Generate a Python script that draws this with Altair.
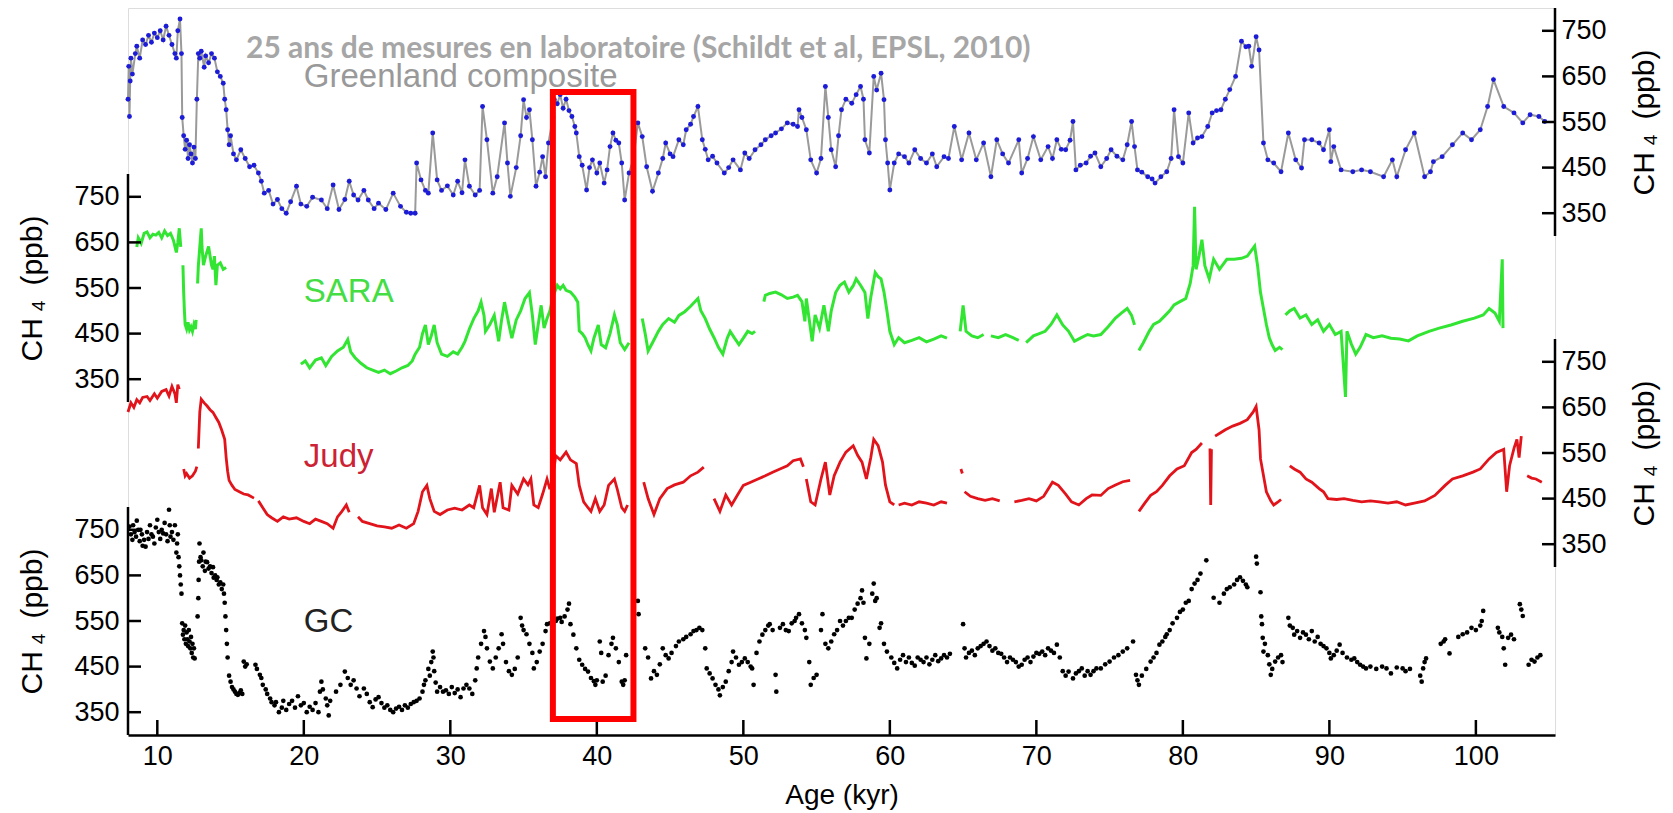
import altair as alt
import pandas as pd

# ---------------- data (age kyr, CH4 ppb) ----------------
GREENLAND = [
    (8.0, 600), (8.05, 672), (8.1, 562), (8.15, 640), (8.2, 690), (8.3, 655), (8.5, 700), (8.6, 716),
    (8.8, 690), (9.0, 730), (9.2, 720), (9.4, 740), (9.6, 725), (9.8, 745), (10.0, 735), (10.2, 750),
    (10.4, 730), (10.6, 760), (10.8, 740), (11.0, 720), (11.2, 700), (11.3, 690), (11.4, 750), (11.55, 776),
    (11.65, 700), (11.7, 560), (11.8, 520), (11.9, 490), (12.0, 510), (12.1, 470), (12.2, 500), (12.3, 480),
    (12.4, 460), (12.5, 495), (12.6, 470), (12.7, 600), (12.8, 700), (12.9, 690), (13.0, 705), (13.2, 670),
    (13.3, 695), (13.5, 680), (13.7, 700), (13.9, 690), (14.1, 660), (14.3, 650), (14.5, 635), (14.6, 600),
    (14.7, 577), (14.8, 533), (14.9, 500), (15.0, 520), (15.2, 480), (15.4, 467), (15.7, 489), (16.0, 470),
    (16.3, 452), (16.6, 455), (16.9, 438), (17.1, 420), (17.3, 394), (17.6, 400), (17.9, 370), (18.2, 380),
    (18.5, 360), (18.8, 350), (19.1, 375), (19.5, 409), (19.8, 370), (20.2, 365), (20.6, 385), (21.2, 379),
    (21.6, 360), (22.0, 412), (22.4, 358), (22.8, 380), (23.1, 420), (23.4, 390), (23.7, 379), (24.1, 400),
    (24.4, 379), (24.8, 360), (25.1, 372), (25.6, 358), (26.1, 394), (26.6, 365), (27.0, 352), (27.3, 350),
    (27.6, 350), (27.7, 460), (28.0, 423), (28.3, 400), (28.5, 394), (28.8, 526), (29.1, 423), (29.4, 400),
    (29.8, 410), (30.2, 390), (30.5, 420), (30.8, 395), (31.0, 467), (31.3, 409), (31.7, 390), (32.0, 400),
    (32.2, 584), (32.5, 511), (32.9, 394), (33.2, 430), (33.7, 548), (33.9, 460), (34.1, 387), (34.5, 450),
    (34.8, 520), (35.0, 599), (35.2, 560), (35.4, 577), (35.6, 511), (35.85, 409), (36.1, 440), (36.3, 474),
    (36.5, 430), (36.7, 504), (37.0, 560), (37.1, 599), (37.3, 590), (37.5, 610), (37.7, 580), (37.9, 600),
    (38.1, 575), (38.3, 562), (38.5, 540), (38.6, 526), (38.8, 474), (39.0, 455), (39.3, 401), (39.5, 450),
    (39.7, 467), (40.0, 438), (40.2, 460), (40.5, 416), (40.7, 445), (40.9, 496), (41.1, 526), (41.3, 510),
    (41.5, 504), (41.7, 460), (41.9, 379), (42.2, 438), (42.5, 470), (42.8, 548), (43.1, 518), (43.4, 452),
    (43.8, 398), (44.2, 438), (44.5, 470), (44.7, 504), (45.0, 480), (45.2, 474), (45.6, 511), (45.9, 500),
    (46.1, 533), (46.4, 545), (46.6, 562), (46.9, 584), (47.2, 511), (47.4, 490), (47.6, 467), (47.9, 475),
    (48.2, 460), (48.7, 438), (49.0, 450), (49.3, 467), (49.8, 445), (50.1, 482), (50.4, 470), (50.8, 489),
    (51.2, 500), (51.5, 511), (51.9, 520), (52.2, 526), (52.6, 535), (53.0, 548), (53.4, 545), (53.7, 540),
    (53.8, 577), (54.0, 560), (54.3, 533), (54.6, 467), (55.0, 438), (55.3, 470), (55.6, 628), (55.8, 560),
    (56.0, 489), (56.3, 452), (56.5, 520), (56.7, 577), (57.0, 600), (57.4, 591), (57.7, 610), (58.0, 628),
    (58.2, 600), (58.3, 511), (58.6, 482), (58.9, 650), (59.1, 620), (59.4, 657), (59.6, 599), (59.7, 511),
    (59.85, 460), (60.0, 401), (60.3, 460), (60.6, 480), (61.0, 474), (61.3, 460), (61.7, 489), (62.1, 470),
    (62.5, 460), (62.9, 480), (63.2, 452), (63.7, 474), (64.0, 470), (64.4, 540), (64.9, 467), (65.4, 526),
    (65.9, 467), (66.4, 504), (66.9, 430), (67.3, 511), (67.7, 480), (68.1, 460), (68.8, 511), (69.0, 438),
    (69.4, 470), (69.8, 518), (70.3, 467), (70.8, 496), (71.1, 470), (71.4, 511), (71.7, 490), (72.0, 489),
    (72.3, 510), (72.5, 551), (72.7, 445), (73.0, 455), (73.4, 460), (73.7, 475), (74.0, 482), (74.4, 452),
    (74.8, 470), (75.1, 489), (75.5, 475), (75.9, 467), (76.2, 500), (76.5, 551), (76.7, 496), (76.9, 445),
    (77.2, 440), (77.6, 430), (77.9, 425), (78.1, 416), (78.5, 430), (78.9, 441), (79.2, 470), (79.4, 577),
    (79.7, 474), (80.0, 460), (80.4, 570), (80.7, 504), (81.0, 515), (81.3, 518), (81.7, 540), (82.0, 570),
    (82.3, 575), (82.6, 577), (82.9, 600), (83.2, 621), (83.6, 650), (84.0, 727), (84.3, 715), (84.5, 716),
    (84.7, 672), (85.0, 737), (85.2, 708), (85.5, 504), (85.8, 467), (86.2, 460), (86.7, 441), (87.2, 526),
    (87.7, 467), (88.1, 449), (88.3, 511), (88.8, 511), (89.3, 504), (89.6, 489), (90.0, 533), (90.1, 463),
    (90.3, 496), (90.8, 445), (91.6, 441), (92.2, 445), (92.8, 441), (93.7, 430), (94.3, 467), (94.6, 430),
    (95.2, 489), (95.8, 526), (96.5, 430), (96.9, 441), (97.1, 463), (97.7, 474), (98.4, 500), (99.1, 526),
    (99.7, 511), (100.3, 533), (100.8, 584), (101.2, 643), (101.9, 584), (102.6, 570), (103.2, 548),
    (103.7, 566), (104.3, 562), (104.7, 551),
]

SARA = [
    [(8.6, 640), (8.7, 660), (8.9, 648), (9.1, 670), (9.3, 673), (9.5, 660), (9.7, 668), (9.9, 666),
     (10.1, 672), (10.3, 660), (10.5, 675), (10.7, 665), (10.9, 670), (11.1, 655), (11.3, 628), (11.4, 650),
     (11.5, 681), (11.6, 640)],
    [(11.75, 600), (11.8, 540), (11.85, 500), (11.9, 470), (12.0, 460), (12.1, 475), (12.2, 458), (12.3, 465),
     (12.4, 455), (12.5, 470), (12.6, 460), (12.65, 480)],
    [(12.75, 560), (12.8, 598), (12.9, 640), (13.0, 681), (13.05, 640), (13.15, 600), (13.3, 620), (13.5, 641),
     (13.7, 600), (13.8, 591), (13.9, 620), (14.0, 556), (14.1, 600), (14.3, 605), (14.5, 591), (14.7, 595)],
    [(19.8, 383), (20.1, 390), (20.4, 375), (20.8, 392), (21.2, 397), (21.5, 380), (21.9, 400), (22.3, 412),
     (22.7, 420), (23.0, 437), (23.2, 410), (23.5, 397), (23.9, 385), (24.3, 375), (24.7, 370), (25.1, 365),
     (25.5, 370), (25.9, 362), (26.3, 368), (26.7, 375), (27.1, 380), (27.4, 390), (27.6, 405), (27.9, 420),
     (28.1, 450), (28.3, 469), (28.5, 426), (28.7, 445), (28.9, 469), (29.1, 430), (29.4, 405), (29.8, 400),
     (30.2, 410), (30.5, 405), (30.8, 420), (31.0, 433), (31.3, 460), (31.6, 483), (31.9, 500), (32.1, 519),
     (32.3, 490), (32.4, 455), (32.7, 470), (33.0, 490), (33.3, 433), (33.5, 480), (33.7, 519), (34.0, 470),
     (34.2, 440), (34.5, 480), (34.8, 500), (35.1, 527), (35.4, 540), (35.6, 490), (35.8, 426), (36.0, 470),
     (36.2, 512), (36.4, 462), (36.6, 483), (36.8, 500), (37.0, 530), (37.3, 556), (37.5, 548), (37.7, 556),
     (37.9, 545), (38.2, 541), (38.5, 530), (38.7, 519), (38.8, 456), (39.0, 450), (39.2, 441), (39.4, 425),
     (39.6, 412), (39.8, 440), (40.1, 469), (40.3, 426), (40.6, 419), (40.9, 450), (41.2, 491), (41.4, 469),
     (41.6, 430), (41.9, 415), (42.2, 430)],
    [(43.1, 483), (43.3, 450), (43.5, 412), (43.8, 430), (44.2, 455), (44.5, 470), (44.9, 483), (45.3, 475),
     (45.6, 490), (46.0, 498), (46.4, 510), (46.9, 527), (47.1, 500), (47.4, 483), (47.7, 460), (48.0, 441),
     (48.3, 420), (48.6, 405), (48.9, 440), (49.1, 455), (49.4, 440), (49.7, 426), (50.0, 440), (50.3, 455),
     (50.6, 450), (50.8, 455)],
    [(51.4, 520), (51.5, 534), (51.8, 538), (52.2, 541), (52.6, 535), (53.0, 527), (53.4, 530), (53.7, 534),
     (54.0, 520), (54.2, 477), (54.3, 527), (54.5, 480), (54.7, 433), (54.9, 491), (55.2, 462), (55.5, 512),
     (55.8, 455), (56.0, 500), (56.3, 540), (56.6, 556), (56.9, 563), (57.2, 541), (57.5, 555), (57.7, 570),
     (58.0, 556), (58.3, 540), (58.5, 483), (58.7, 530), (59.0, 584), (59.2, 575), (59.4, 570), (59.6, 541),
     (59.8, 500), (60.0, 455), (60.3, 426), (60.6, 441), (61.0, 430), (61.5, 435), (62.0, 441), (62.5, 432),
     (63.0, 438), (63.5, 445), (63.9, 440)],
    [(64.8, 455), (65.0, 512), (65.2, 455), (65.6, 445), (66.0, 441), (66.4, 448)],
    [(66.9, 445), (67.4, 441), (67.9, 448), (68.4, 441), (68.8, 435)],
    [(69.3, 430), (69.8, 445), (70.2, 450), (70.6, 455), (71.0, 470), (71.4, 491), (71.8, 469), (72.2, 455),
     (72.6, 433), (73.0, 440), (73.5, 448), (73.9, 445), (74.4, 448), (74.9, 465), (75.4, 484), (75.8, 495),
     (76.2, 505), (76.5, 490), (76.7, 469)],
    [(77.0, 413), (77.3, 430), (77.7, 455), (78.0, 470), (78.4, 477), (78.8, 490), (79.1, 500), (79.4, 513),
     (79.8, 520), (80.2, 527), (80.5, 560), (80.7, 599), (80.8, 728), (80.9, 591), (81.1, 620), (81.3, 656),
     (81.5, 599), (81.8, 570), (82.1, 613), (82.5, 591), (83.0, 613), (83.5, 613), (84.0, 615), (84.4, 620),
     (84.9, 642), (85.1, 599), (85.3, 540), (85.5, 505), (85.7, 470), (85.9, 441), (86.1, 425), (86.3, 413),
     (86.6, 420), (86.8, 415)],
    [(87.0, 491), (87.3, 500), (87.6, 505), (88.0, 484), (88.4, 491), (88.8, 470), (89.2, 480), (89.6, 455),
     (90.0, 470), (90.4, 448), (90.8, 455), (91.1, 311), (91.2, 455), (91.5, 427), (91.8, 405), (92.1, 420),
     (92.5, 448), (93.0, 441), (93.6, 445), (94.2, 440), (94.8, 438), (95.4, 434), (96.0, 445), (96.8, 455),
     (97.5, 462), (98.3, 469), (99.1, 477), (99.9, 484), (100.5, 491), (100.9, 505), (101.3, 495),
     (101.6, 477), (101.8, 613), (101.85, 462)],
]

JUDY = [
    [(8.0, 640), (8.2, 660), (8.4, 650), (8.6, 667), (8.8, 660), (9.0, 672), (9.3, 674), (9.5, 665),
     (9.8, 680), (10.0, 670), (10.3, 685), (10.6, 689), (10.8, 675), (11.0, 696), (11.2, 680), (11.3, 660),
     (11.4, 700), (11.5, 690)],
    [(11.8, 515), (11.9, 500), (12.0, 505), (12.2, 495), (12.4, 500), (12.6, 510), (12.7, 520)],
    [(12.8, 560), (12.85, 600), (12.9, 640), (13.0, 668), (13.2, 660), (13.4, 653), (13.6, 645), (13.8, 639),
     (14.0, 628), (14.2, 617), (14.4, 600), (14.6, 580), (14.7, 540), (14.8, 510), (14.9, 490), (15.1, 479),
     (15.3, 470), (15.6, 465), (15.9, 460), (16.2, 458), (16.6, 451)],
    [(16.9, 445), (17.2, 430), (17.5, 415), (17.8, 408), (18.2, 400), (18.6, 410), (19.0, 405), (19.5, 408),
     (20.0, 400), (20.4, 395), (20.8, 405), (21.2, 400), (21.6, 395), (22.0, 385), (22.3, 410), (22.6, 422),
     (22.9, 436), (23.1, 420)],
    [(23.7, 410), (24.0, 400), (24.5, 395), (25.0, 390), (25.5, 388), (26.0, 385), (26.5, 392), (27.0, 385),
     (27.5, 395), (27.8, 422), (28.1, 465), (28.4, 479), (28.6, 450), (28.9, 422), (29.3, 415), (29.8, 425),
     (30.3, 429), (30.8, 425), (31.3, 436), (31.6, 430), (32.0, 479), (32.2, 430), (32.5, 415), (32.8, 472),
     (33.0, 420), (33.4, 486), (33.6, 430), (34.0, 425), (34.2, 479), (34.6, 460), (35.0, 493), (35.3, 480),
     (35.5, 493), (35.7, 436), (36.0, 430), (36.3, 460), (36.6, 493), (36.8, 470)],
    [(37.0, 500), (37.2, 544), (37.5, 535), (37.9, 552), (38.2, 535), (38.6, 527), (38.8, 479), (39.1, 443),
     (39.4, 430), (39.6, 422), (39.9, 450), (40.2, 422), (40.5, 436), (40.8, 479), (41.2, 493), (41.4, 470),
     (41.7, 430), (41.9, 422), (42.1, 436)],
    [(43.2, 486), (43.5, 450), (43.9, 415), (44.3, 450), (44.8, 472), (45.3, 480), (45.9, 486), (46.4, 500),
     (46.9, 508), (47.3, 519)],
    [(48.0, 450), (48.4, 422), (48.8, 458), (49.2, 436), (49.6, 458), (50.0, 479), (50.5, 486), (51.0, 493),
     (51.5, 500), (52.0, 508), (52.5, 515), (53.0, 522), (53.4, 533), (53.9, 537), (54.1, 520)],
    [(54.3, 493), (54.6, 443), (54.9, 436), (55.3, 493), (55.6, 530), (55.9, 458), (56.2, 500), (56.6, 530),
     (57.0, 552), (57.5, 566), (57.8, 545), (58.1, 530), (58.4, 493), (58.7, 540), (58.9, 580), (59.2, 566),
     (59.5, 530), (59.7, 480), (60.0, 443), (60.3, 436)],
    [(60.6, 436), (61.0, 440), (61.5, 436), (62.0, 443), (62.5, 440), (63.0, 436), (63.5, 443), (63.9, 440)],
    [(64.85, 515), (64.95, 505)],
    [(65.1, 465), (65.5, 455), (66.0, 450), (66.5, 446), (67.0, 450), (67.5, 445)],
    [(68.5, 443), (69.0, 446), (69.5, 450), (70.0, 445), (70.5, 455), (71.1, 486), (71.5, 479), (72.0, 460),
     (72.4, 443), (72.9, 436), (73.4, 450), (73.8, 458), (74.4, 457), (74.9, 472), (75.4, 480), (75.9, 487),
     (76.4, 490)],
    [(77.0, 422), (77.4, 440), (77.8, 457), (78.2, 465), (78.6, 479), (79.1, 500), (79.6, 515), (80.1, 522),
     (80.6, 551), (80.9, 558), (81.3, 572)],
    [(81.85, 560), (81.9, 436), (81.95, 558)],
    [(82.2, 587), (82.6, 595), (82.9, 601), (83.4, 609), (83.9, 615), (84.4, 623), (84.8, 640), (85.0, 652),
     (85.2, 601), (85.3, 537), (85.7, 465), (86.0, 445), (86.2, 436), (86.5, 443), (86.7, 448)],
    [(87.3, 522), (87.6, 515), (88.0, 508), (88.4, 493), (88.8, 486), (89.3, 472), (89.6, 465), (89.9, 450),
     (90.5, 448), (91.0, 450), (91.6, 446), (92.2, 443), (92.8, 445), (93.4, 443), (94.0, 440), (94.6, 443),
     (95.2, 436), (95.8, 440), (96.5, 445), (97.2, 457), (97.9, 479), (98.4, 493), (99.1, 500), (99.8, 508),
     (100.3, 515), (100.9, 537), (101.4, 551), (101.9, 558), (102.1, 465), (102.3, 522), (102.6, 560),
     (102.8, 580), (102.95, 540), (103.1, 587)],
    [(103.5, 500), (103.8, 495), (104.1, 493), (104.5, 486)],
]

GC = [
    (8.1, 757), (8.2, 740), (8.3, 728), (8.35, 760), (8.45, 745), (8.55, 735), (8.6, 770), (8.7, 750),
    (8.8, 725), (8.85, 750), (8.95, 740), (9.0, 715), (9.1, 728), (9.2, 713), (9.3, 745), (9.4, 730),
    (9.5, 760), (9.6, 740), (9.7, 735), (9.8, 720), (9.9, 755), (10.0, 772), (10.1, 745), (10.2, 730),
    (10.3, 750), (10.4, 742), (10.5, 765), (10.6, 740), (10.7, 725), (10.8, 794), (10.85, 760), (10.9, 735),
    (11.0, 745), (11.1, 728), (11.2, 760), (11.3, 700), (11.35, 720), (11.4, 740), (11.45, 690),
    (11.5, 670), (11.55, 650), (11.6, 630), (11.65, 610),
    (11.7, 545), (11.75, 520), (11.8, 530), (11.85, 510), (11.9, 540), (11.95, 500), (12.0, 525), (12.05, 510),
    (12.1, 495), (12.15, 530), (12.2, 505), (12.25, 490), (12.3, 515), (12.35, 480), (12.4, 500), (12.45, 470),
    (12.5, 490), (12.55, 468),
    (12.75, 560), (12.8, 600), (12.82, 640), (12.85, 680), (12.88, 720),
    (12.95, 690), (13.0, 683), (13.1, 670), (13.15, 700), (13.25, 660), (13.3, 680), (13.4, 679), (13.5, 665),
    (13.6, 670), (13.7, 655), (13.8, 668), (13.85, 645), (13.95, 650), (14.05, 640), (14.1, 646), (14.2, 630),
    (14.3, 635), (14.4, 620), (14.5, 630), (14.55, 610),
    (14.6, 590), (14.65, 560), (14.7, 530), (14.75, 500), (14.8, 470),
    (14.9, 430), (15.0, 417), (15.1, 405), (15.2, 400), (15.3, 395), (15.4, 390), (15.5, 388), (15.6, 392),
    (15.7, 398), (15.8, 390), (15.9, 461), (16.0, 450), (16.1, 455),
    (16.7, 454), (16.8, 445), (17.0, 432), (17.1, 425), (17.2, 410), (17.4, 400), (17.5, 390), (17.7, 380),
    (17.8, 372), (18.0, 365), (18.1, 372), (18.3, 350), (18.5, 360), (18.6, 375), (18.8, 355), (19.0, 368),
    (19.2, 375), (19.4, 360), (19.6, 385), (19.8, 365), (20.0, 370), (20.2, 350), (20.4, 362), (20.6, 355),
    (20.8, 370), (21.0, 350), (21.1, 395), (21.2, 417), (21.3, 400), (21.5, 380), (21.6, 365), (21.7, 343),
    (21.8, 375), (22.2, 395), (22.5, 410), (22.8, 439), (23.0, 425), (23.2, 410), (23.4, 420), (23.6, 402),
    (23.8, 385), (24.1, 402), (24.3, 390), (24.5, 372), (24.7, 361), (24.9, 378), (25.1, 383), (25.3, 370),
    (25.5, 360), (25.7, 365), (25.9, 355), (26.1, 350), (26.3, 358), (26.5, 362), (26.7, 355), (26.9, 365),
    (27.1, 360), (27.3, 368), (27.5, 372), (27.7, 375), (27.9, 380),
    (28.1, 395), (28.2, 410), (28.3, 420), (28.5, 445), (28.6, 430), (28.7, 460), (28.8, 483), (28.85, 470),
    (28.9, 440), (29.0, 415), (29.1, 395), (29.3, 405), (29.5, 395), (29.7, 398), (29.9, 390), (30.1, 405),
    (30.3, 392), (30.5, 400), (30.7, 383), (30.9, 402), (31.1, 410), (31.3, 402), (31.5, 390), (31.7, 420),
    (31.8, 446), (31.9, 470), (32.1, 500), (32.3, 528), (32.4, 515), (32.5, 490),
    (32.7, 461), (32.9, 446), (33.1, 470), (33.3, 490), (33.5, 521), (33.6, 500), (33.8, 460), (34.0, 440),
    (34.2, 432), (34.4, 445), (34.6, 470), (34.8, 557), (34.9, 540), (35.0, 530), (35.2, 521), (35.4, 500),
    (35.6, 480), (35.7, 446), (35.9, 460), (36.1, 483), (36.3, 500), (36.5, 528), (36.6, 543),
    (36.8, 545), (37.0, 540), (37.2, 550), (37.3, 555), (37.5, 557), (37.6, 548), (37.8, 560), (38.0, 575),
    (38.1, 588), (38.2, 543), (38.4, 520), (38.6, 490), (38.8, 465), (39.0, 454), (39.2, 445), (39.4, 439),
    (39.6, 425), (39.8, 418), (39.9, 410), (40.0, 420), (40.2, 505), (40.3, 480), (40.4, 417), (40.6, 430),
    (40.8, 475), (41.0, 500), (41.1, 513), (41.3, 490), (41.5, 460), (41.7, 417), (41.8, 410), (41.9, 420),
    (42.0, 475), (42.8, 594), (42.85, 565),
    (43.3, 490), (43.5, 470), (43.7, 424), (43.9, 440), (44.1, 432), (44.3, 455), (44.5, 490), (44.7, 475),
    (44.9, 468), (45.1, 480), (45.4, 495), (45.6, 505), (45.9, 510), (46.1, 515), (46.4, 521), (46.6, 528),
    (46.8, 530), (47.0, 535), (47.2, 530), (47.4, 490), (47.5, 446), (47.7, 435), (47.9, 424), (48.1, 410),
    (48.3, 400), (48.4, 387), (48.6, 405), (48.8, 417),
    (49.0, 440), (49.2, 460), (49.3, 483), (49.5, 470), (49.7, 454), (49.9, 460), (50.1, 468), (50.3, 460),
    (50.5, 450), (50.6, 446), (50.7, 410), (50.9, 480), (51.1, 505), (51.3, 520), (51.5, 530), (51.7, 540),
    (51.8, 543), (52.0, 530), (52.2, 432), (52.25, 395),
    (52.5, 535), (52.7, 543), (52.9, 530), (53.1, 528), (53.3, 545), (53.5, 550), (53.6, 557), (53.8, 565),
    (54.0, 545), (54.2, 530), (54.3, 513), (54.5, 460), (54.6, 410), (54.8, 425), (55.0, 432),
    (55.3, 530), (55.4, 565), (55.6, 500), (55.8, 490), (56.0, 505), (56.2, 521), (56.4, 530), (56.6, 550),
    (56.8, 540), (57.0, 550), (57.2, 557), (57.4, 557), (57.6, 575), (57.8, 588), (58.0, 600), (58.1, 617),
    (58.2, 590), (58.3, 513), (58.4, 468), (58.6, 500), (58.8, 610), (58.9, 632), (59.0, 594), (59.1, 600),
    (59.3, 535), (59.4, 545), (59.6, 500), (59.8, 483),
    (60.1, 470), (60.3, 458), (60.5, 446), (60.7, 465), (60.9, 475), (61.1, 460), (61.3, 470), (61.5, 458),
    (61.7, 452), (61.9, 470), (62.1, 465), (62.3, 460), (62.5, 470), (62.7, 455), (62.9, 465), (63.1, 475),
    (63.3, 462), (63.5, 468), (63.7, 475), (63.9, 470), (64.1, 478),
    (65.0, 543), (65.1, 490), (65.2, 470), (65.4, 480), (65.6, 485), (65.8, 475), (66.0, 490), (66.2, 495),
    (66.4, 500), (66.6, 505), (66.8, 495), (67.0, 485), (67.2, 490), (67.4, 480), (67.6, 478), (67.8, 470),
    (68.0, 460), (68.2, 470), (68.4, 465), (68.6, 460), (68.8, 450), (69.0, 454), (69.2, 465), (69.4, 470),
    (69.6, 460), (69.8, 472), (70.0, 480), (70.2, 478), (70.4, 483), (70.6, 475), (70.8, 490), (71.0, 485),
    (71.2, 480), (71.4, 498), (71.6, 470), (71.8, 440), (72.0, 430), (72.2, 439), (72.5, 424), (72.7, 435),
    (72.9, 440), (73.1, 446), (73.3, 430), (73.5, 440), (73.7, 432), (73.9, 440),
    (74.1, 446), (74.4, 446), (74.7, 455), (75.0, 461), (75.3, 470), (75.6, 475), (75.9, 483), (76.2, 490),
    (76.6, 505), (76.8, 432), (76.9, 420), (77.0, 410), (77.2, 430), (77.5, 445), (77.8, 461), (78.0, 470),
    (78.2, 480), (78.4, 498), (78.6, 505), (78.8, 515), (78.9, 521), (79.1, 530), (79.3, 545), (79.6, 557),
    (79.8, 570), (80.0, 575), (80.2, 590), (80.4, 594), (80.6, 620), (80.8, 632), (81.0, 640), (81.2, 654),
    (81.6, 683), (82.1, 601), (82.5, 590), (82.8, 610), (83.0, 620), (83.2, 624), (83.5, 630), (83.7, 640),
    (83.9, 646), (84.1, 638), (84.3, 630), (84.4, 624),
    (85.0, 691), (85.05, 676), (85.3, 613), (85.35, 560), (85.4, 543), (85.45, 513), (85.5, 483), (85.6, 500),
    (85.8, 475), (85.9, 455), (86.0, 432), (86.1, 445), (86.3, 461), (86.5, 470), (86.7, 475), (86.8, 460),
    (87.2, 557), (87.3, 540), (87.5, 535), (87.6, 520), (87.8, 528), (88.0, 513), (88.2, 525), (88.4, 520),
    (88.6, 510), (88.8, 528), (89.0, 505), (89.2, 515), (89.4, 500), (89.6, 495), (89.8, 490), (90.0, 480),
    (90.1, 468), (90.3, 475), (90.5, 485), (90.7, 498), (90.9, 480), (91.2, 470), (91.5, 465), (91.7, 468),
    (91.9, 460), (92.1, 454), (92.3, 450), (92.5, 446), (92.8, 450), (93.2, 445), (93.6, 450), (93.9, 446),
    (94.2, 435), (94.6, 448), (95.0, 446), (95.2, 440), (95.5, 445), (96.2, 430), (96.3, 417), (96.4, 446),
    (96.5, 460), (96.6, 468), (97.6, 500), (97.8, 505), (97.9, 510), (98.2, 479), (98.8, 515), (99.1, 521),
    (99.4, 525), (99.7, 535), (100.0, 530), (100.3, 540), (100.4, 550), (100.5, 572), (101.5, 535),
    (101.6, 525), (101.8, 515), (101.9, 490), (102.0, 454), (102.2, 513), (102.4, 520), (102.6, 510),
    (103.0, 587), (103.1, 575), (103.2, 561), (103.6, 454), (103.8, 465), (104.0, 461), (104.2, 470),
    (104.4, 475),
]

Y_TICKS = [350, 450, 550, 650, 750]
X_TICKS = [10, 20, 30, 40, 50, 60, 70, 80, 90, 100]
X_DOMAIN = [8.0, 105.4]
PANEL_RANGE = [300, 800]
HIGHLIGHT = [37.0, 42.5]
TITLE = "25 ans de mesures en laboratoire (Schildt et al, EPSL, 2010)"
Y_TITLE = "CH\u2009\u2084\u2009 (ppb)"
# series label: (text, age, ppb baseline, colour)
LABELS = {
    "greenland": ("Greenland composite", 20.0, 627, "#999999"),
    "sara": ("SARA", 20.0, 519, "#44dd44"),
    "judy": ("Judy", 20.0, 519, "#cc2233"),
    "gc": ("GC", 20.0, 526, "#222222"),
}

# ---------------- layout (pixels) ----------------
W, H = 1427, 727
P = 228  # pixel height of one 300-800 ppb panel
TOPS = {"greenland": 0, "sara": 166, "judy": 331, "gc": 499}
FONT = "Liberation Sans"


def panel_domain(top):
    k = (PANEL_RANGE[1] - PANEL_RANGE[0]) / P
    return [PANEL_RANGE[0] - (H - top - P) * k, PANEL_RANGE[1] + top * k]


X_AXIS = alt.Axis(
    values=X_TICKS, title="Age (kyr)", grid=False, ticks=False, tickSize=0,
    domain=True, domainColor="black", domainWidth=2.5,
    labelFontSize=27, labelColor="black", labelPadding=8, labelFont=FONT, labelFlush=False,
    titleFontSize=28, titleFontWeight="normal", titleColor="black", titleFont=FONT,
    titleY=68, titleBaseline="alphabetic",
)
X_SCALE = alt.Scale(domain=X_DOMAIN, nice=False, zero=False)


def xenc(field="age"):
    return alt.X(f"{field}:Q", scale=X_SCALE, axis=X_AXIS)


def panel(key, orient, line_layers):
    top = TOPS[key]
    left = orient == "left"
    yscale = alt.Scale(domain=panel_domain(top), nice=False, zero=False)
    yaxis = alt.Axis(
        orient=orient, values=Y_TICKS, grid=False, domain=False, ticks=False, tickSize=0,
        labelFontSize=27, labelColor="black", labelFont=FONT, labelPadding=9 if left else 6,
        labelFlush=False, labelOverlap=False, offset=0,
        title=Y_TITLE, titleFontSize=30, titleFontWeight="normal", titleColor="black", titleFont=FONT,
        titleAngle=270, titleAlign="center", titleBaseline="alphabetic",
        titleX=-87 if left else 98, titleY=top + P / 2,
    )

    def yenc(field):
        return alt.Y(f"{field}:Q", scale=yscale, axis=yaxis)

    layers = [f(yenc) for f in line_layers]

    # axis line (300 .. 800 ppb) and inward ticks
    axline = alt.Chart(pd.DataFrame({"lo": [PANEL_RANGE[0]], "hi": [PANEL_RANGE[1]]})).mark_rule(
        color="black", strokeWidth=2.5
    ).encode(
        y=yenc("lo"), y2="hi:Q", x=alt.value(0 if left else W)
    )
    ticks = alt.Chart(pd.DataFrame({"t": Y_TICKS})).mark_rule(color="black", strokeWidth=2.5).encode(
        y=yenc("t"),
        x=alt.value(0 if left else W),
        x2=alt.value(13 if left else W - 13),
    )
    text, age, val, col = LABELS[key]
    label = alt.Chart(pd.DataFrame({"age": [age], "v": [val], "txt": [text]})).mark_text(
        align="left", baseline="alphabetic", fontSize=33, font=FONT, color=col
    ).encode(x=xenc(), y=yenc("v"), text="txt:N")
    return alt.layer(*layers, axline, ticks, label)


def seg_frame(segments):
    rows = []
    for i, seg in enumerate(segments):
        for a, v in seg:
            rows.append({"age": a, "v": v, "seg": i})
    return pd.DataFrame(rows)


gl_df = pd.DataFrame(GREENLAND, columns=["age", "v"])
gc_df = pd.DataFrame(GC, columns=["age", "v"])
sara_df = seg_frame(SARA)
judy_df = seg_frame(JUDY)

greenland = panel("greenland", "right", [
    lambda y: alt.Chart(gl_df).mark_line(color="#9a9a9a", strokeWidth=2).encode(x=xenc(), y=y("v")),
    lambda y: alt.Chart(gl_df).mark_circle(color="#1c1cd6", size=24, opacity=1).encode(x=xenc(), y=y("v")),
])
sara = panel("sara", "left", [
    lambda y: alt.Chart(sara_df).mark_line(color="#33e533", strokeWidth=3).encode(
        x=xenc(), y=y("v"), detail="seg:N"),
])
judy = panel("judy", "right", [
    lambda y: alt.Chart(judy_df).mark_line(color="#e2141b", strokeWidth=2.8).encode(
        x=xenc(), y=y("v"), detail="seg:N"),
])
gc = panel("gc", "left", [
    lambda y: alt.Chart(gc_df).mark_circle(color="black", size=22, opacity=1).encode(x=xenc(), y=y("v")),
])

xticks = alt.Chart(pd.DataFrame({"t": X_TICKS})).mark_rule(color="black", strokeWidth=2.5).encode(
    x=xenc("t"), y=alt.value(H), y2=alt.value(H - 15)
)
box = alt.Chart(pd.DataFrame({"a": [HIGHLIGHT[0]], "b": [HIGHLIGHT[1]]})).mark_rect(
    fillOpacity=0, stroke="#ff0000", strokeWidth=6
).encode(x=xenc("a"), x2="b:Q", y=alt.value(84), y2=alt.value(711))
title = alt.Chart(pd.DataFrame({"txt": [TITLE]})).mark_text(
    align="left", baseline="alphabetic", font="Lato", fontWeight="bold", fontSize=30, color="#a6a6a6"
).encode(x=alt.value(118), y=alt.value(50), text="txt:N")

chart = alt.layer(greenland, sara, judy, gc, xticks, box, title).resolve_scale(
    y="independent"
).properties(
    width=W, height=H,
    padding={"left": 128, "top": 8, "right": 118, "bottom": 78},
    autosize=alt.AutoSizeParams(type="none"),
    background="white",
).configure_view(stroke=None).configure(font=FONT)

chart.save("out.html", embed_options={"renderer": "svg", "actions": False})
